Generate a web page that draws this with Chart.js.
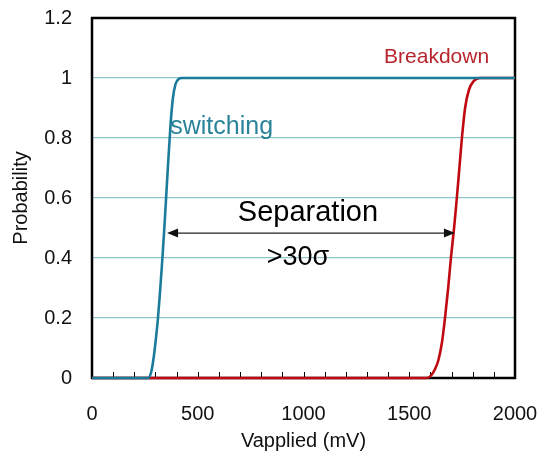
<!DOCTYPE html>
<html>
<head>
<meta charset="utf-8">
<script src="https://cdn.jsdelivr.net/npm/chart.js@4.4.1/dist/chart.umd.min.js"></script>
<style>
  html, body { margin: 0; padding: 0; background: #fff; }
  #wrap { width: 539px; height: 456px; }
</style>
</head>
<body>
<div id="wrap"><canvas id="probChart" width="539" height="456"></canvas></div>
<script>
// switching curve (mV, probability)
const switchV = [0, 265, 280, 292, 302, 312, 322, 332, 342, 352, 362, 372, 382, 395, 410, 425, 2000];
const switchP = [0, 0, 0.02, 0.07, 0.13, 0.2, 0.29, 0.39, 0.5, 0.62, 0.74, 0.85, 0.93, 0.98, 0.997, 1, 1];

// breakdown curve (mV, probability)
const breakV = [0, 1584, 1605, 1622, 1638, 1655, 1669, 1684, 1697, 1712, 1725, 1737, 1749, 1764, 1782, 1805, 1835, 2000];
const breakP = [0, 0, 0.01, 0.03, 0.06, 0.12, 0.2, 0.3, 0.4, 0.5, 0.6, 0.7, 0.8, 0.9, 0.96, 0.99, 1, 1];

const xTickLabels = [0, 500, 1000, 1500, 2000];
const yTickLabels = [0, 0.2, 0.4, 0.6, 0.8, 1, 1.2];

const FONT = "'Liberation Sans', Arial, sans-serif";

function toPoints(xs, ys) {
    return xs.map((x, i) => ({ x: x, y: ys[i] }));
}

// frame, inward minor ticks on x, and the text notes
const notesPlugin = {
    id: 'notes',
    beforeDatasetsDraw(chart) {
        const ctx = chart.ctx;
        const a = chart.chartArea;
        const xs = chart.scales.x;
        ctx.save();
        // small ticks pointing up from the bottom axis
        ctx.strokeStyle = '#000';
        ctx.lineWidth = 1;
        xs.ticks.forEach(t => {
            if (t.value <= 0 || t.value >= 2000) return;
            const px = Math.round(xs.getPixelForValue(t.value)) + 0.5;
            ctx.beginPath();
            ctx.moveTo(px, a.bottom);
            ctx.lineTo(px, a.bottom - 6);
            ctx.stroke();
        });
        // box round the plot
        ctx.lineWidth = 2.5;
        ctx.strokeRect(a.left, a.top, a.right - a.left, a.bottom - a.top);
        ctx.restore();
    },
    afterDatasetsDraw(chart) {
        const ctx = chart.ctx;
        const xs = chart.scales.x;
        const ys = chart.scales.y;
        ctx.save();
        ctx.textBaseline = 'middle';

        ctx.fillStyle = '#2a8499';
        ctx.font = '25px ' + FONT;
        ctx.textAlign = 'left';
        ctx.fillText('switching', xs.getPixelForValue(370), ys.getPixelForValue(0.835));

        ctx.fillStyle = '#b8252c';
        ctx.font = '21px ' + FONT;
        ctx.fillText('Breakdown', xs.getPixelForValue(1381), ys.getPixelForValue(1.07));

        ctx.fillStyle = '#000';
        ctx.textAlign = 'center';
        ctx.font = '29px ' + FONT;
        ctx.fillText('Separation', xs.getPixelForValue(1021), ys.getPixelForValue(0.55));
        ctx.font = '27px ' + FONT;
        ctx.fillText('>30\u03C3', xs.getPixelForValue(974), ys.getPixelForValue(0.40));

        // double headed arrow between the two curves
        const x1 = xs.getPixelForValue(355);
        const x2 = xs.getPixelForValue(1716);
        const y = ys.getPixelForValue(0.483);
        ctx.strokeStyle = '#222';
        ctx.lineWidth = 1.2;
        ctx.beginPath();
        ctx.moveTo(x1 + 8, y);
        ctx.lineTo(x2 - 8, y);
        ctx.stroke();
        ctx.fillStyle = '#111';
        ctx.beginPath();
        ctx.moveTo(x1, y);
        ctx.lineTo(x1 + 11, y - 4.5);
        ctx.lineTo(x1 + 11, y + 4.5);
        ctx.closePath();
        ctx.fill();
        ctx.beginPath();
        ctx.moveTo(x2, y);
        ctx.lineTo(x2 - 11, y - 4.5);
        ctx.lineTo(x2 - 11, y + 4.5);
        ctx.closePath();
        ctx.fill();
        ctx.restore();
    }
};

document.addEventListener('DOMContentLoaded', () => {
    const data = {
        datasets: [
            {
                label: 'switching',
                data: toPoints(switchV, switchP),
                borderColor: '#1a7c9a',
                borderWidth: 2.6,
                pointRadius: 0,
                cubicInterpolationMode: 'monotone',
                clip: false
            },
            {
                label: 'Breakdown',
                data: toPoints(breakV, breakP),
                borderColor: '#c00a12',
                borderWidth: 2.6,
                pointRadius: 0,
                cubicInterpolationMode: 'monotone',
                clip: false
            }
        ]
    };

    const config = {
        type: 'line',
        data: data,
        options: {
            responsive: false,
            animation: false,
            layout: { padding: 0 },
            plugins: {
                legend: { display: false },
                tooltip: { enabled: false }
            },
            scales: {
                x: {
                    type: 'linear',
                    min: 0,
                    max: 2000,
                    afterBuildTicks: (scale) => {
                        const t = [];
                        for (let v = 0; v <= 2000; v += 100) t.push({ value: v });
                        scale.ticks = t;
                    },
                    afterFit: (scale) => {
                        scale.height = 78;
                        scale.paddingLeft = 0;
                        scale.paddingRight = 24;
                    },
                    grid: { display: false, drawTicks: false },
                    border: { display: false },
                    ticks: {
                        autoSkip: false,
                        maxRotation: 0,
                        padding: 24,
                        color: '#111',
                        font: { family: FONT, size: 20 },
                        callback: (v) => xTickLabels.includes(v) ? String(v) : ''
                    },
                    title: {
                        display: true,
                        text: 'Vapplied (mV)',
                        color: '#111',
                        font: { family: FONT, size: 20 },
                        padding: { top: 0, bottom: 3 }
                    }
                },
                y: {
                    min: 0,
                    max: 1.2,
                    afterBuildTicks: (scale) => {
                        scale.ticks = yTickLabels.map(v => ({ value: v }));
                    },
                    afterFit: (scale) => {
                        scale.width = 92;
                        scale.paddingTop = 18;
                        scale.paddingBottom = 0;
                    },
                    grid: {
                        drawTicks: false,
                        lineWidth: 1.3,
                        color: (c) => (c.tick && c.tick.value > 0.01 && c.tick.value < 1.19) ? '#8ec5cc' : 'rgba(0,0,0,0)'
                    },
                    border: { display: false },
                    ticks: {
                        padding: 20,
                        color: '#111',
                        font: { family: FONT, size: 20 },
                        callback: (v) => String(parseFloat(Number(v).toFixed(1)))
                    },
                    title: {
                        display: true,
                        text: 'Probability',
                        color: '#111',
                        font: { family: FONT, size: 20 },
                        padding: { top: 9, bottom: 0 }
                    }
                }
            }
        },
        plugins: [notesPlugin]
    };

    const ctx = document.getElementById('probChart').getContext('2d');
    new Chart(ctx, config);
});
</script>
</body>
</html>
